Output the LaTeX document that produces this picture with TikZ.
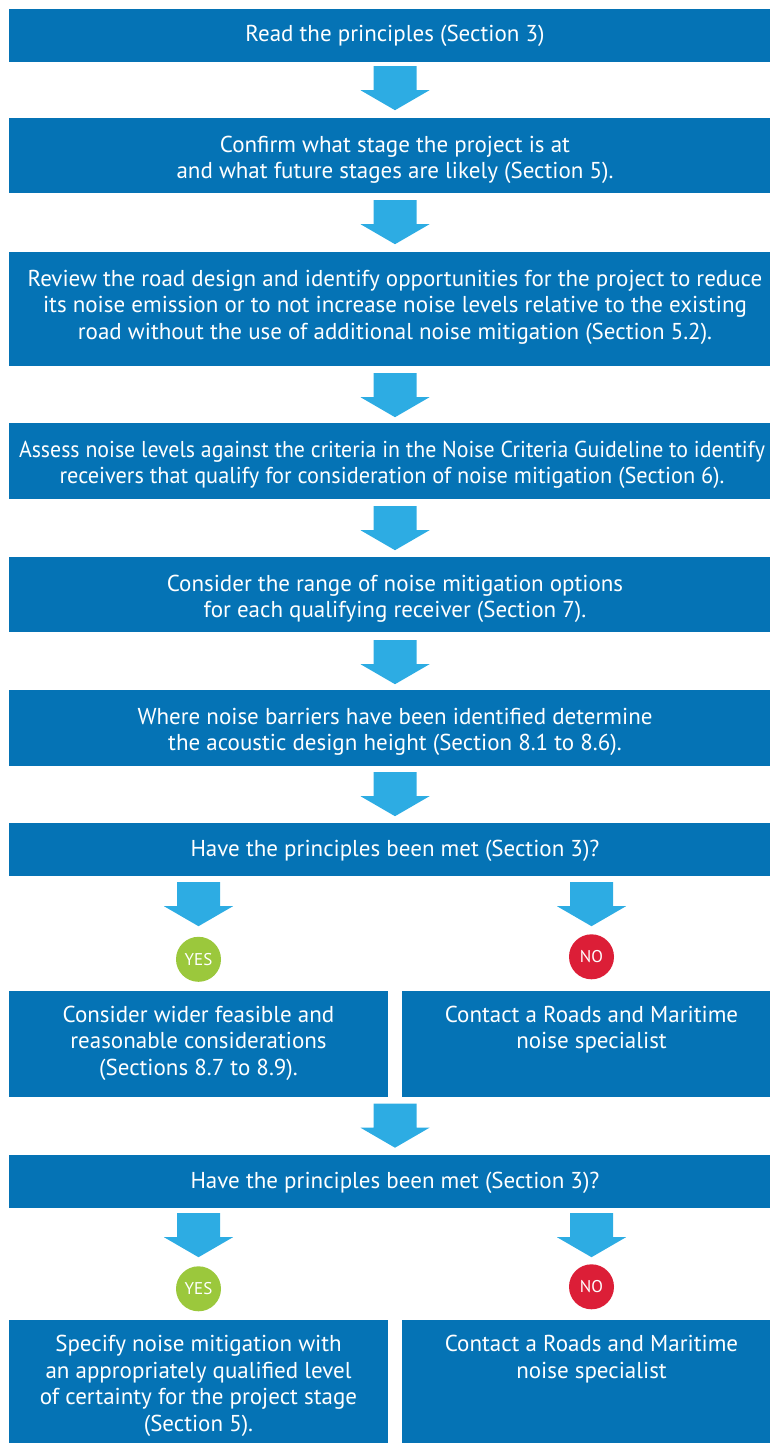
\documentclass[tikz,border=0pt]{standalone}
\usepackage{fontspec}
\setmainfont{PT Sans}
\usetikzlibrary{calc}
\definecolor{boxblue}{RGB}{5,115,181}
\definecolor{arrowblue}{RGB}{45,172,227}
\definecolor{yesgreen}{RGB}{155,200,60}
\definecolor{nored}{RGB}{220,30,55}
\newcommand{\tlines}[1]{\parbox[t]{770pt}{\centering #1}}
\newcommand{\sq}[2]{\scalebox{#1}[1]{#2}}
\begin{document}
\begin{tikzpicture}[x=1pt,y=-1pt,
  box/.style={fill=boxblue, inner sep=0pt},
  wide/.style={box, minimum width=772pt},
  half/.style={box, minimum width=379pt},
  txt/.style={anchor=base, inner sep=0pt, text=white, font=\fontsize{23}{26.5}\selectfont},
  yesc/.style={circle, fill=yesgreen, text=white, minimum size=45pt, inner sep=0pt, font=\fontsize{17}{17}\selectfont},
  noc/.style={circle, fill=nored, text=white, minimum size=45pt, inner sep=0pt, font=\fontsize{17}{17}\selectfont},
  darrow/.pic={\fill[arrowblue] (-21.5,0) -- (21.5,0) -- (21.5,24) -- (34.5,24) -- (0,44) -- (-34.5,24) -- (-21.5,24) -- cycle;}
]
\useasboundingbox (0,0) rectangle (769,1443);

\node[wide, minimum height=53pt] (b1) at (395,35.5) {};
\node[wide, minimum height=75pt] (b2) at (395,155.5) {};
\node[wide, minimum height=114pt] (b3) at (395,309) {};
\node[wide, minimum height=76pt] (b4) at (395,461) {};
\node[wide, minimum height=75pt] (b5) at (395,594.5) {};
\node[wide, minimum height=76pt] (b6) at (395,728) {};
\node[wide, minimum height=53pt] (b7) at (395,849.5) {};
\node[half, minimum height=106pt] (b8l) at (198.5,1043.5) {};
\node[half, minimum height=106pt] (b8r) at (591.5,1043.5) {};
\node[wide, minimum height=53pt] (b9) at (395,1181.5) {};
\node[half, minimum height=130pt] (b10l) at (198.5,1385) {};
\node[half, minimum height=130pt] (b10r) at (591.5,1385) {};

\node[txt] (t1) at (395,41.5) {\tlines{Read the principles (Section 3)}};
\node[txt] (t2) at (395,152) {\tlines{Confirm what stage the project is at\\and what future stages are likely (Section 5).}};
\node[txt] (t3) at (395,286) {\tlines{Review the road design and identify opportunities for the project to reduce\\its noise emission or to not increase noise levels relative to the existing\\road without the use of additional noise mitigation (Section 5.2).}};
\node[txt] (t4) at (392,457) {\tlines{\sq{0.95}{Assess noise levels against the criteria in the Noise Criteria Guideline to identify}\\\sq{0.97}{receivers that qualify for consideration of noise mitigation (Section 6).}}};
\node[txt] (t5) at (395,591) {\tlines{Consider the range of noise mitigation options\\for each qualifying receiver (Section 7).}};
\node[txt] (t6) at (395,724) {\tlines{Where noise barriers have been identified determine\\the acoustic design height (Section 8.1 to 8.6).}};
\node[txt] (t7) at (395,856) {\tlines{Have the principles been met (Section 3)?}};
\node[txt] (t8l) at (198.5,1022) {\parbox[t]{370pt}{\centering Consider wider feasible and\\reasonable considerations\\(Sections 8.7 to 8.9).}};
\node[txt] (t8r) at (591.5,1022) {\parbox[t]{370pt}{\centering Contact a Roads and Maritime\\noise specialist}};
\node[txt] (t9) at (395,1188) {\tlines{Have the principles been met (Section 3)?}};
\node[txt] (t10l) at (198.5,1351.5) {\parbox[t]{370pt}{\centering Specify noise mitigation with\\an appropriately qualified level\\of certainty for the project stage\\(Section 5).}};
\node[txt] (t10r) at (591.5,1351.5) {\parbox[t]{370pt}{\centering Contact a Roads and Maritime\\noise specialist}};

\pic at ($(b1.south)+(0,4)$) {darrow};
\pic at ($(b2.south)+(0,7)$) {darrow};
\pic at ($(b3.south)+(0,7)$) {darrow};
\pic at ($(b4.south)+(0,7)$) {darrow};
\pic at ($(b5.south)+(0,8)$) {darrow};
\pic at ($(b6.south)+(0,6)$) {darrow};
\pic at ($(b7.south -| b8l.north)+(0,6)$) {darrow};
\pic at ($(b7.south -| b8r.north)+(0,6)$) {darrow};
\pic at ($(b8l.south -| b9.north)+(0,7)$) {darrow};
\pic at ($(b9.south -| b10l.north)+(0,5)$) {darrow};
\pic at ($(b9.south -| b10r.north)+(0,5)$) {darrow};

\node[yesc] (y1) at ($(b8l.north)+(0,-31)$) {YES};
\node[noc] (n1) at ($(b8r.north)+(0,-33.5)$) {NO};
\node[yesc] (y2) at ($(b10l.north)+(0,-31)$) {YES};
\node[noc] (n2) at ($(b10r.north)+(0,-33)$) {NO};
\end{tikzpicture}
\end{document}
